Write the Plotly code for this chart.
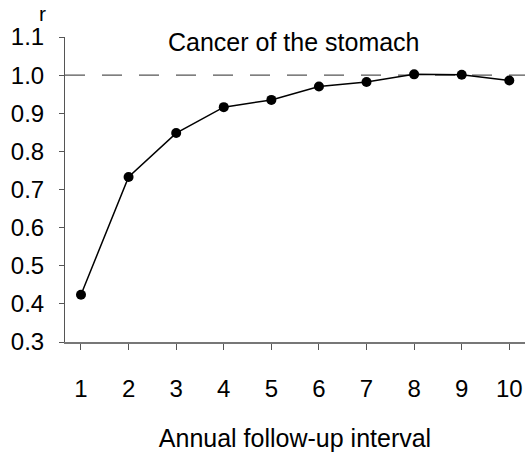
import plotly.graph_objects as go

# Annual follow-up interval and relative ratio r for cancer of the stomach
intervals = [1, 2, 3, 4, 5, 6, 7, 8, 9, 10]
r_values = [0.424, 0.733, 0.848, 0.916, 0.935, 0.970, 0.982, 1.002, 1.001, 0.986]
y_ticks = [0.3, 0.4, 0.5, 0.6, 0.7, 0.8, 0.9, 1.0, 1.1]
reference_level = 1.0

FONT = "Liberation Sans, Arial, sans-serif"

fig = go.Figure()
fig.add_trace(go.Scatter(
    x=intervals, y=r_values, mode="lines+markers",
    line=dict(color="black", width=1.5),
    marker=dict(color="black", size=10),
    showlegend=False,
))

# Dashed reference line at r = 1
fig.add_shape(type="line", xref="paper", yref="y", x0=0, x1=1,
              y0=reference_level, y1=reference_level,
              line=dict(color="#555555", width=1.2, dash="20px,17px"), layer="below")

fig.update_layout(
    width=525, height=455,
    margin=dict(l=65, r=0, t=37, b=113),
    plot_bgcolor="white", paper_bgcolor="white",
    font=dict(family=FONT, size=24, color="black"),
    xaxis=dict(
        range=[0.664, 10.33], tickmode="array", tickvals=intervals,
        ticks="outside", ticklen=6, tickcolor="#555555", tickwidth=1,
        showline=True, linecolor="#777777", linewidth=1.5,
        showgrid=False, zeroline=False, ticklabelstandoff=18,
        title=dict(text="Annual follow-up interval", standoff=29,
                   font=dict(size=25)),
    ),
    yaxis=dict(
        range=[0.3, 1.1], tickmode="array", tickvals=y_ticks,
        ticktext=[f"{v:.1f}" for v in y_ticks],
        ticks="outside", ticklen=5, tickcolor="#555555", tickwidth=1,
        showline=True, linecolor="#555555", linewidth=1,
        showgrid=False, zeroline=False, ticklabelstandoff=10,
    ),
    annotations=[
        dict(text="r", xref="paper", yref="paper", x=-0.05, y=1.033,
             showarrow=False, xanchor="center", yanchor="bottom",
             font=dict(size=21)),
        dict(text="Cancer of the stomach", xref="paper", yref="paper",
             x=0.498, y=0.985, showarrow=False, xanchor="center",
             yanchor="middle", font=dict(size=25)),
    ],
)

fig.write_html("out.html")
